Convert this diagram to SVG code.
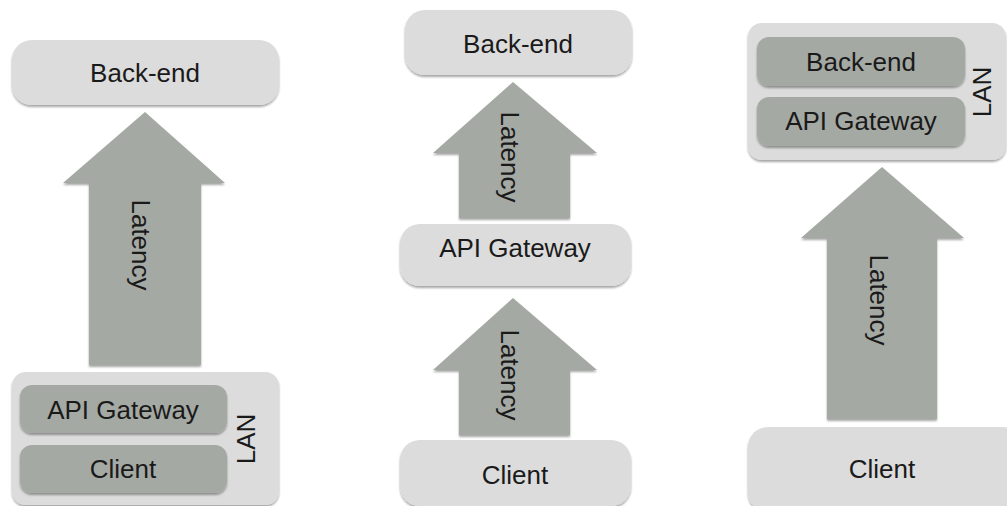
<svg xmlns="http://www.w3.org/2000/svg" width="1007" height="506" viewBox="0 0 1007 506">
<defs>
<filter id="sh" x="-10%" y="-10%" width="120%" height="130%">
<feDropShadow dx="0" dy="2" stdDeviation="1.3" flood-color="#000" flood-opacity="0.35"/>
</filter>
<style>
.box{fill:#dcdcdc;filter:url(#sh)}
.inner{fill:#a5a9a3;filter:url(#sh)}
.arrow{fill:#a5a9a3;filter:url(#sh)}
.t{font-family:"Liberation Sans",Arial,sans-serif;font-size:26px;fill:#1a1a1a;text-anchor:middle}
</style>
</defs>
<rect width="1007" height="506" fill="#fff"/>

<!-- Left column -->
<g id="left-backend"><rect class="box" x="12" y="40" width="267" height="65" rx="20"/><text class="t" x="145" y="82">Back-end</text></g>
<g id="left-lan"><rect class="box" x="12" y="372" width="267" height="133" rx="14"/><text class="t" transform="translate(246,439) rotate(-90)" x="0" y="9">LAN</text></g>
<g id="left-gateway"><rect class="inner" x="20" y="385" width="207" height="48" rx="12"/><text class="t" x="123" y="419">API Gateway</text></g>
<g id="left-client"><rect class="inner" x="20" y="445" width="207" height="48" rx="12"/><text class="t" x="123" y="478">Client</text></g>

<!-- Middle column -->
<g id="mid-backend"><rect class="box" x="405" y="10" width="227" height="65" rx="20"/><text class="t" x="518" y="53">Back-end</text></g>
<g id="mid-gateway"><rect class="box" x="400" y="224" width="231" height="62" rx="20"/><text class="t" x="515" y="257">API Gateway</text></g>
<g id="mid-client"><rect class="box" x="400" y="440" width="231" height="66" rx="20"/><text class="t" x="515" y="484">Client</text></g>

<!-- Right column -->
<g id="right-lan"><rect class="box" x="748" y="23" width="258" height="137" rx="14"/><text class="t" transform="translate(982,92) rotate(-90)" x="0" y="9">LAN</text></g>
<g id="right-backend"><rect class="inner" x="757" y="37" width="208" height="49" rx="12"/><text class="t" x="861" y="71">Back-end</text></g>
<g id="right-gateway"><rect class="inner" x="757" y="97" width="208" height="49" rx="12"/><text class="t" x="861" y="130">API Gateway</text></g>
<g id="right-client"><rect class="box" x="748" y="427" width="275" height="85" rx="20"/><text class="t" x="882" y="478">Client</text></g>

<!-- Connectors (latency arrows) -->
<g id="connectors">
<g><polygon class="arrow" points="145,112 225,183 201,183 201,365 89,365 89,183 63,183"/><text class="t" transform="translate(141,245) rotate(90)" x="0" y="9">Latency</text></g>
<g><polygon class="arrow" points="513,82 597,153 570,153 570,218 459,218 459,153 433,153"/><text class="t" transform="translate(510,157) rotate(90)" x="0" y="9">Latency</text></g>
<g><polygon class="arrow" points="513,298 597,370 570,370 570,435 459,435 459,370 433,370"/><text class="t" transform="translate(510,375) rotate(90)" x="0" y="9">Latency</text></g>
<g><polygon class="arrow" points="882,167 964,238 937,238 937,419 827,419 827,238 801,238"/><text class="t" transform="translate(879,300) rotate(90)" x="0" y="9">Latency</text></g>
</g>
</svg>
